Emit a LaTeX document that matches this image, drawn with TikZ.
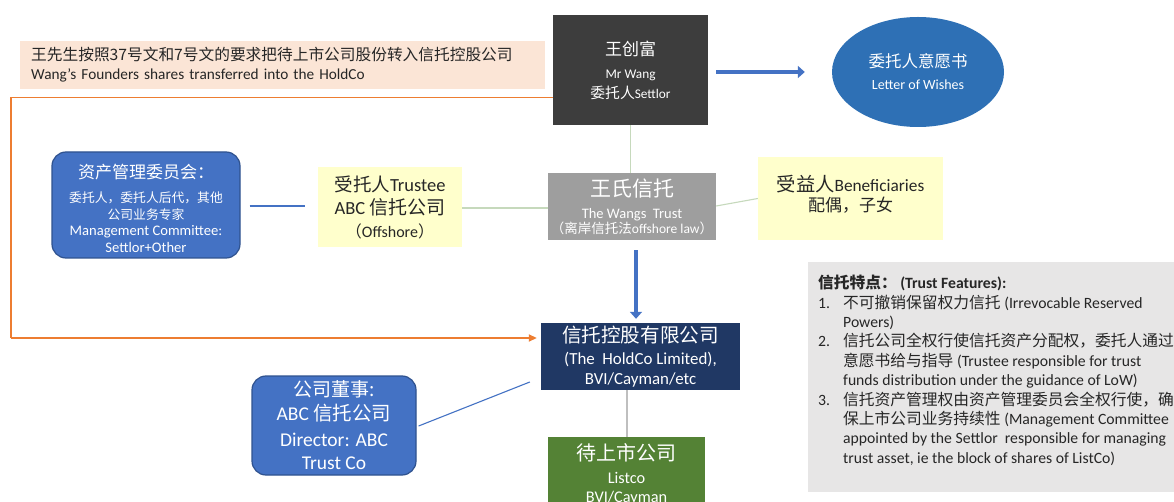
\documentclass[tikz,border=0pt]{standalone}
\usepackage{fontspec}
\setmainfont{Carlito}
\newfontfamily\cjk{Noto Sans CJK SC}
\usetikzlibrary{arrows.meta,shapes.geometric}
\newcommand\zh[1]{{\cjk #1}}
\newcommand\fs[2]{\fontsize{#1}{#2}\selectfont\lineskiplimit=-50pt\relax}
\newcommand\sz[1]{\fontsize{#1}{#1}\selectfont}
\definecolor{peach}{HTML}{FBE5D6}
\definecolor{settlorgray}{HTML}{3D3D3D}
\definecolor{ellblue}{HTML}{2E70B5}
\definecolor{trustgray}{HTML}{9E9E9E}
\definecolor{paleyellow}{HTML}{FFFFCC}
\definecolor{midblue}{HTML}{4472C4}
\definecolor{edgeblue}{HTML}{2F528F}
\definecolor{navy}{HTML}{203864}
\definecolor{leaf}{HTML}{548235}
\definecolor{featgray}{HTML}{E7E6E6}
\definecolor{orangeline}{HTML}{ED7D31}
\definecolor{paleline}{HTML}{C6D9BC}
\definecolor{greyline}{HTML}{BFBFBF}
\definecolor{txt}{HTML}{262626}
\begin{document}
\begin{tikzpicture}[x=1pt,y=-1pt,
  darkbox/.style={rectangle, inner sep=0pt, text=white, align=center},
  lightbox/.style={rectangle, fill=paleyellow, inner sep=0pt, text=txt, align=center},
  roundblue/.style={rectangle, rounded corners=14pt, fill=midblue, draw=edgeblue, line width=1.2pt, inner sep=0pt, text=white, align=center},
  thinlink/.style={line width=1.1pt},
  bigarrow/.style={midblue, line width=4.5pt, -{Triangle[length=7pt,width=12pt]}},
  orangearrow/.style={orangeline, line width=1.8pt, -{Triangle[length=8pt,width=7pt]}}
]
\useasboundingbox (0,0) rectangle (1174,502);
\clip (0,0) rectangle (1174,502);
\fill[white] (0,0) rectangle (1174,502);

% banner
\node[rectangle, fill=peach, anchor=west, minimum width=525pt, minimum height=48pt, inner xsep=11pt, text width=503pt, align=left, text=txt, font=\fs{15.3}{19}] (banner) at (20,65)
  {\zh{\sz{15.7}王先生按照37号文和7号文的要求把待上市公司股份转入信托控股公司}\\
   Wang’s Founders shares transferred into the HoldCo};

% settlor
\node[darkbox, fill=settlorgray, minimum width=155pt, minimum height=110pt, font=\fs{13.3}{20}] (settlor) at (630.5,70)
  {\zh{\sz{17}王创富}\\[3pt]
   Mr Wang\\
   \zh{\sz{14.8}委托人}Settlor};

% letter of wishes
\node[ellipse, fill=ellblue, minimum width=172pt, minimum height=110pt, inner sep=0pt, text=white, align=center, font=\fs{14}{22}] (low) at (918,72)
  {\zh{\sz{16.5}委托人意愿书}\\
   Letter of Wishes};

% trust
\node[darkbox, fill=trustgray, minimum width=168pt, minimum height=67pt, font=\fs{14.5}{15}] (trust) at (632,206.5)
  {\zh{\sz{21}王氏信托}\\[7pt]
   The Wangs~ Trust\\
   {\sz{13.5}\zh{（离岸信托法}offshore law\zh{）}}};

% trustee
\node[lightbox, minimum width=144pt, minimum height=80pt, font=\fs{18.5}{23}] (trustee) at (390,207)
  {\zh{受托人}Trustee\\
   ABC \zh{\sz{19}信托公司}\\
   {\sz{16}\zh{（}Offshore\zh{）}}};

% management committee
\node[roundblue, minimum width=188pt, minimum height=106pt, font=\fs{14.6}{16.5}] (mc) at (146,205)
  {\rule{0pt}{21pt}\zh{\sz{17}资产管理委员会：}\\[7.5pt]
   \zh{\sz{12.8}委托人，委托人后代，其他}\\
   \zh{\sz{12.8}公司业务专家}\\
   Management Committee:\\
   Settlor+Other};

% beneficiaries
\node[lightbox, minimum width=185pt, minimum height=83pt, font=\fs{17.3}{20}] (benef) at (850.5,198.5)
  {\zh{\sz{19.3}受益人}Beneficiaries\\
   \zh{\sz{17}配偶，子女}\rule[-11pt]{0pt}{0pt}};

% holdco
\node[darkbox, fill=navy, minimum width=199pt, minimum height=67pt, font=\fs{16.9}{20}] (holdco) at (640.5,356.5)
  {\zh{\sz{19.6}信托控股有限公司}\\[2pt]
   (The~ HoldCo Limited),\\
   BVI/Cayman/etc};

% director
\node[roundblue, minimum width=164pt, minimum height=99pt, font=\fs{19.5}{23}] (director) at (334,425.5)
  {\zh{\sz{19}公司董事:}\\[1pt]
   ABC \zh{\sz{19.5}信托公司}\\[3pt]
   Director: ABC\\
   Trust Co};

% listco
\node[darkbox, fill=leaf, anchor=north, minimum width=157pt, minimum height=75pt, font=\fs{16.3}{19}] (listco) at (626.5,437)
  {\zh{\sz{20}待上市公司}\\[4pt]
   Listco\\
   BVI/Cayman};

% trust features
\node[rectangle, fill=featgray, anchor=north west, minimum width=372pt, minimum height=230pt, inner sep=0pt] (featbox) at (808,262) {};
\node[anchor=north west, align=left, inner sep=0pt, text=txt, font=\fs{15.7}{19.4}] (feat) at (818,275)
  {{\bfseries\zh{信托特点：} (Trust Features):}\\
   \makebox[25pt][l]{1.}\zh{\sz{15.75}不可撤销保留权力信托} (Irrevocable Reserved\\
   \hspace*{25pt}Powers)\\
   \makebox[25pt][l]{2.}\zh{\sz{15.75}信托公司全权行使信托资产分配权，委托人通过}\\
   \hspace*{25pt}\zh{\sz{15.75}意愿书给与指导} (Trustee responsible for trust\\
   \hspace*{25pt}funds distribution under the guidance of LoW)\\
   \makebox[25pt][l]{3.}\zh{\sz{15.75}信托资产管理权由资产管理委员会全权行使，确}\\
   \hspace*{25pt}\zh{\sz{15.75}保上市公司业务持续性} (Management Committee\\
   \hspace*{25pt}appointed by the Settlor~ responsible for managing\\
   \hspace*{25pt}trust asset, ie the block of shares of ListCo)};

% connectors
\coordinate (orangeA) at (11,97.5);
\coordinate (orangeB) at (11,338);
\draw[orangeline, line width=1.8pt] (settlor.west |- orangeA) -- (orangeA) -- (orangeB);
\draw[orangearrow] (orangeB) -- ([xshift=-4pt]holdco.west |- orangeB);

\draw[bigarrow] ([xshift=8pt]settlor.east |- low.center) -- ([xshift=-27pt]low.west);
\draw[bigarrow] ([xshift=4pt,yshift=-10pt]trust.south) -- ([xshift=4pt,yshift=4pt]holdco.north -| trust.south);

\draw[thinlink, paleline] (settlor.south) -- (settlor.south |- trust.north);
\draw[thinlink, paleline] (trustee.east |- 0,208) -- (trust.west |- 0,208);
\draw[thinlink, paleline] ([yshift=0.5pt]trust.east) -- (benef.west);
\draw[thinlink, midblue] ([xshift=9pt]mc.east |- 0,206) -- ([xshift=-13pt]trustee.west |- 0,206);
\draw[thinlink, midblue] ([xshift=2pt,yshift=-0.5pt]director.east) -- ([xshift=-11pt,yshift=-25.5pt]holdco.west);
\draw[thinlink, greyline] ([xshift=-13.5pt]holdco.south) -- ([xshift=0.5pt]listco.north);
\end{tikzpicture}
\end{document}
